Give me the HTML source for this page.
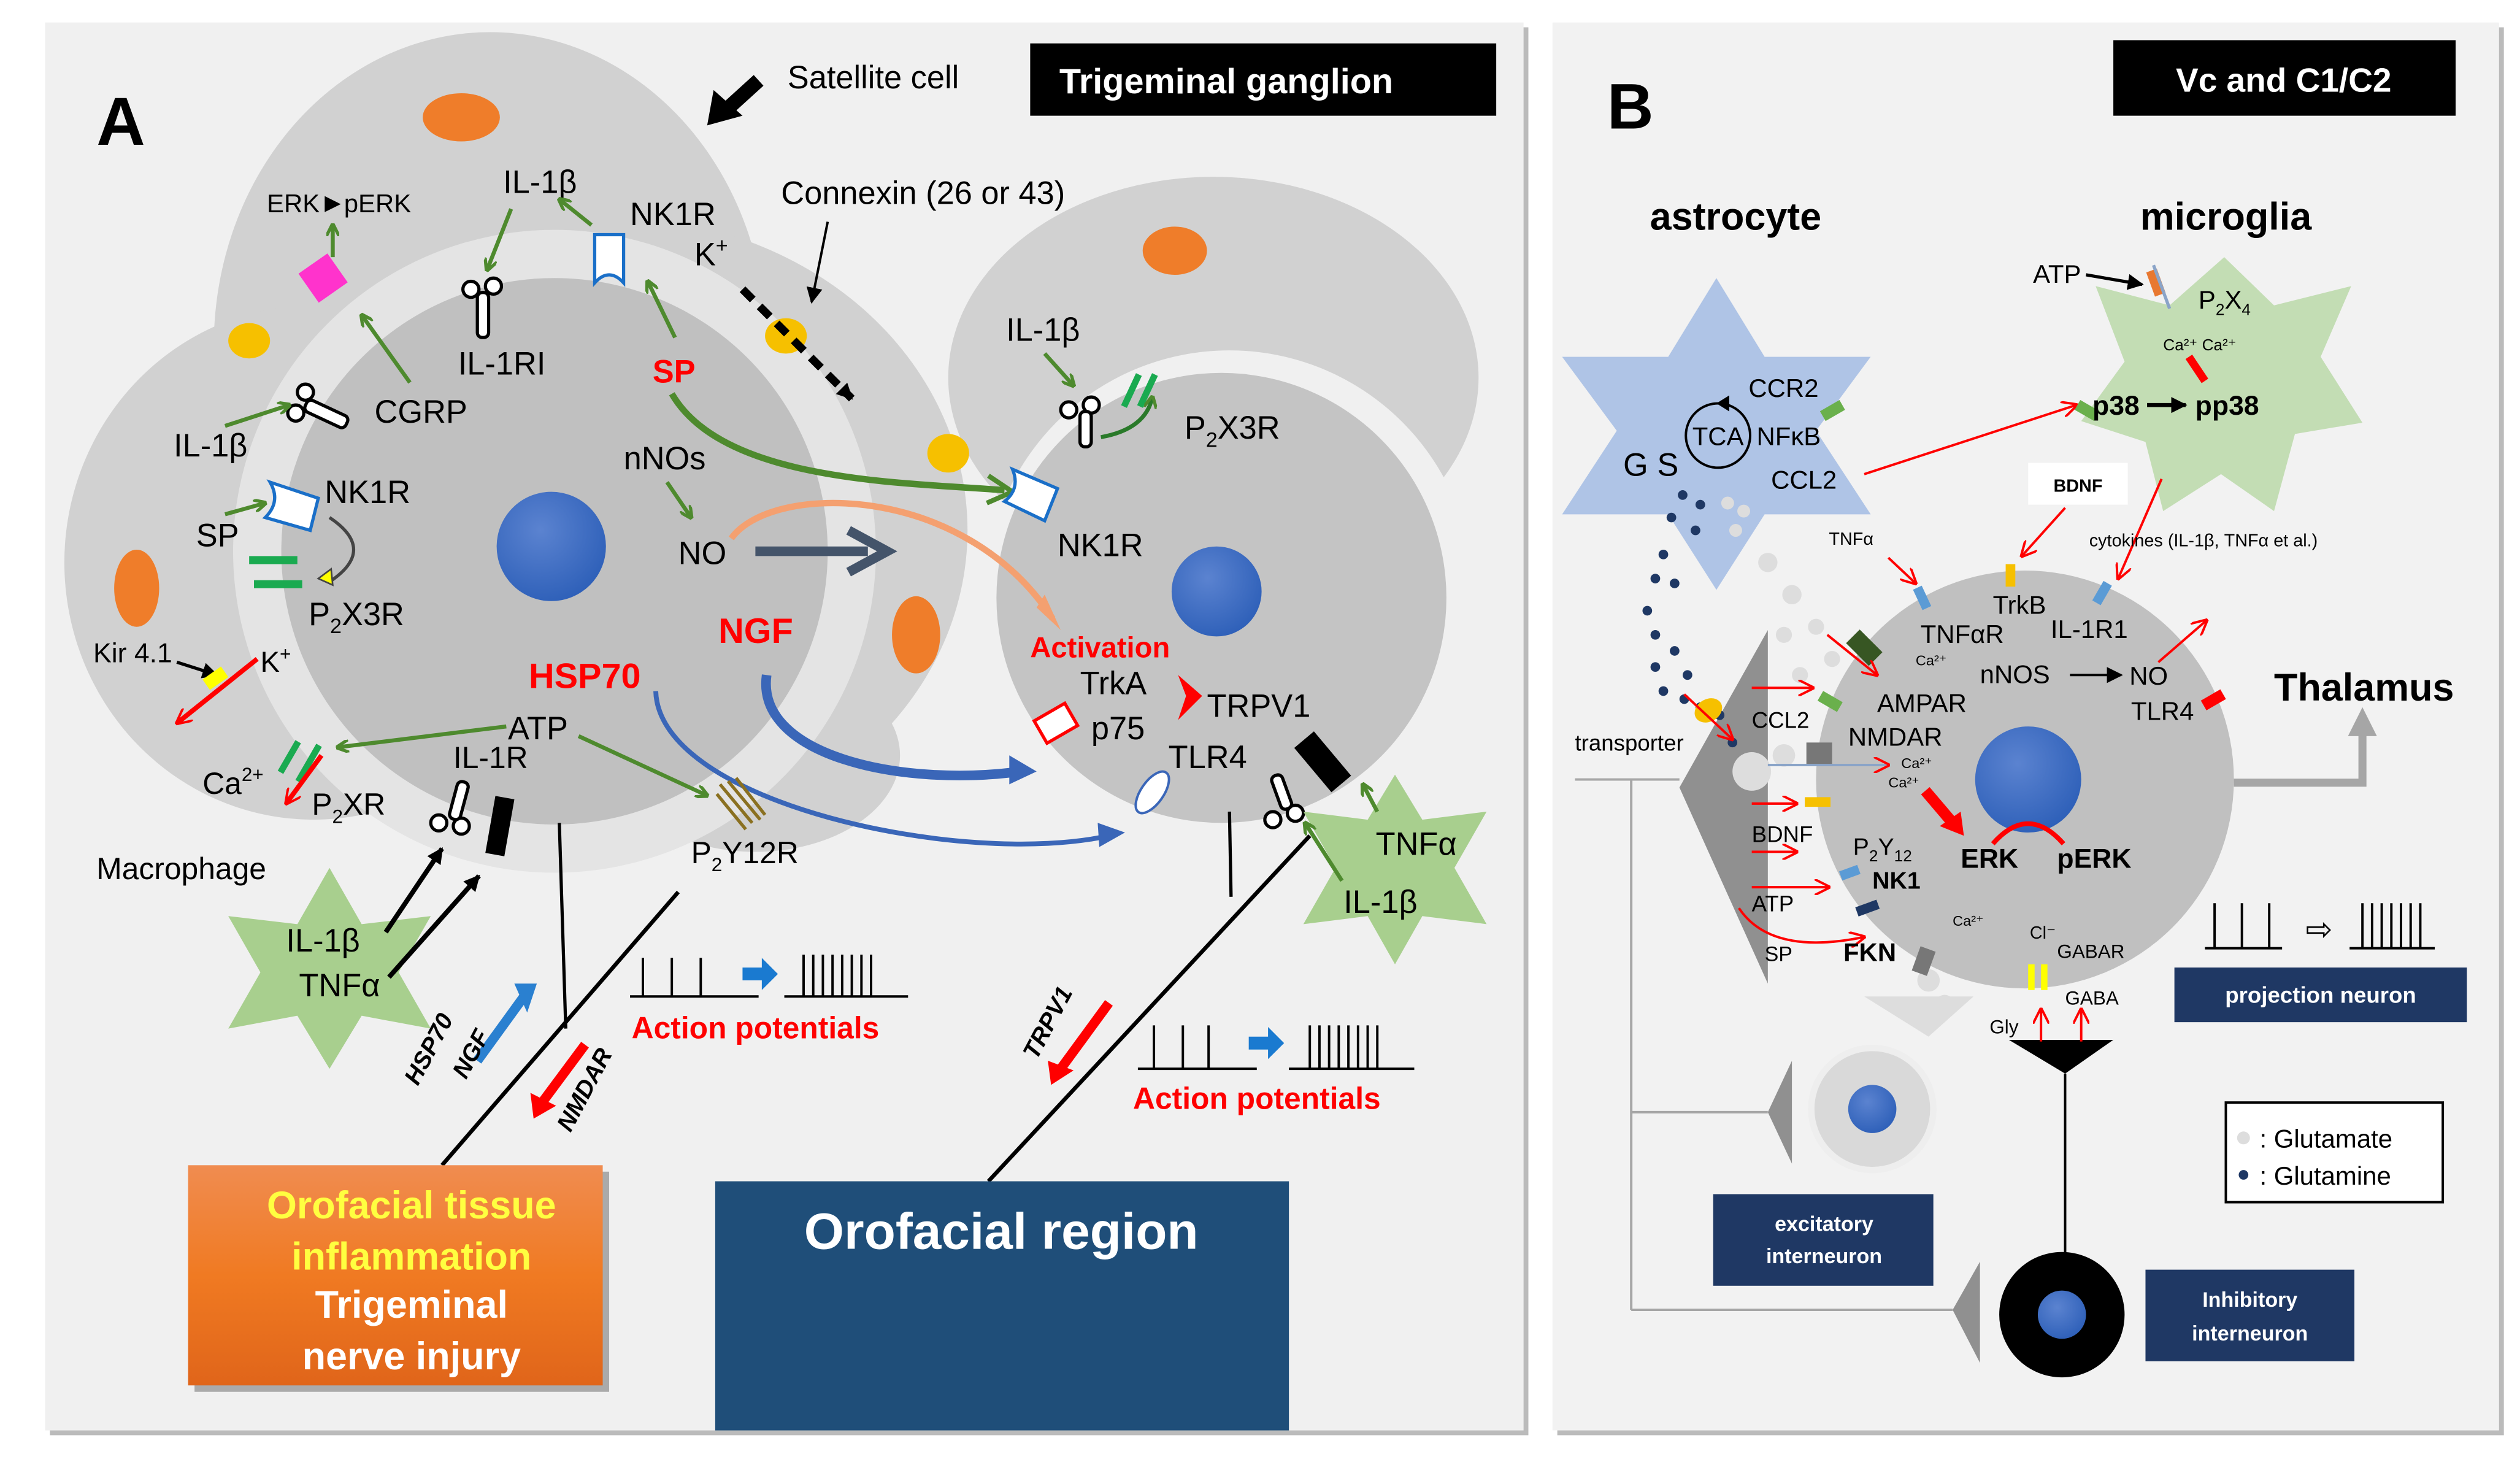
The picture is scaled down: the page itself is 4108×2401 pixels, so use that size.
<!DOCTYPE html>
<html><head><meta charset="utf-8"><style>
html,body{margin:0;padding:0;background:#fff;}
svg{display:block;}
text{font-family:"Liberation Sans",sans-serif;}
</style></head><body>
<svg width="4108" height="2401" viewBox="0 0 1568 916.5" xmlns="http://www.w3.org/2000/svg">
<defs>
<marker id="ag" markerWidth="8" markerHeight="8" refX="7" refY="4" orient="auto" markerUnits="userSpaceOnUse"><path d="M0,0 L8,4 L0,8" fill="none" stroke="#4e8a2e" stroke-width="2"/></marker>
<marker id="ar" markerWidth="10" markerHeight="10" refX="9" refY="5" orient="auto" markerUnits="userSpaceOnUse"><path d="M0,0 L10,5 L0,10" fill="none" stroke="#f00" stroke-width="1.5"/></marker>
<marker id="ak" markerWidth="10" markerHeight="10" refX="9" refY="5" orient="auto" markerUnits="userSpaceOnUse"><path d="M0,0 L10,5 L0,10 z" fill="#000"/></marker>
<linearGradient id="og" x1="0" y1="0" x2="0" y2="1"><stop offset="0" stop-color="#f08c50"/><stop offset="0.5" stop-color="#f07a22"/><stop offset="1" stop-color="#e0651a"/></linearGradient>
<radialGradient id="nb" cx="0.4" cy="0.35" r="0.7"><stop offset="0" stop-color="#5b83d0"/><stop offset="1" stop-color="#2d5fb8"/></radialGradient>
</defs>
<rect width="1568" height="916.5" fill="#fff"/>
<rect x="31" y="17" width="920" height="876" fill="#bbb"/>
<rect x="28" y="14" width="920" height="876" fill="#f0f0f0"/>
<rect x="969" y="17" width="589" height="876" fill="#bbb"/>
<rect x="966" y="14" width="589" height="876" fill="#f2f2f2"/>

<ellipse cx="305" cy="215" rx="172" ry="195" fill="#d1d1d1"/>
<ellipse cx="380" cy="330" rx="222" ry="195" fill="#d1d1d1"/>
<ellipse cx="195" cy="350" rx="155" ry="160" fill="#d1d1d1"/>
<ellipse cx="470" cy="470" rx="90" ry="60" fill="#d1d1d1"/>
<circle cx="345" cy="343" r="200" fill="#e4e4e4"/>
<circle cx="345" cy="343" r="170" fill="#c0c0c0"/>
<ellipse cx="755" cy="235" rx="165" ry="125" fill="#d1d1d1"/>
<circle cx="765" cy="370" r="152" fill="#f0f0f0"/>
<circle cx="760" cy="372" r="140" fill="#c4c4c4"/>
<circle cx="343" cy="340" r="34" fill="url(#nb)"/>
<circle cx="757" cy="368" r="28" fill="url(#nb)"/>
<ellipse cx="287" cy="73" rx="24" ry="15" fill="#ef7d2a"/>
<ellipse cx="85" cy="366" rx="14" ry="24" fill="#ef7d2a"/>
<ellipse cx="570" cy="395" rx="15" ry="24" fill="#ef7d2a"/>
<ellipse cx="731" cy="156" rx="20" ry="15" fill="#ef7d2a"/>
<ellipse cx="155" cy="212" rx="13" ry="11" fill="#f6c000"/>
<ellipse cx="489" cy="209" rx="13" ry="11" fill="#f6c000"/>
<ellipse cx="590" cy="282" rx="13" ry="12" fill="#f6c000"/>

<rect x="641" y="27" width="290" height="45" fill="#000"/>
<text x="763" y="58" font-size="22" font-weight="bold" fill="#fff" text-anchor="middle">Trigeminal ganglion</text>
<text x="60" y="90" font-size="42" font-weight="bold">A</text>
<text x="490" y="55" font-size="20">Satellite cell</text>
<path d="M472,50 L450,70" stroke="#000" stroke-width="9"/><path d="M440,78 L444,56 L462,72z" fill="#000"/>
<text x="486" y="127" font-size="20">Connexin (26   or 43)</text>
<line x1="515" y1="138" x2="505" y2="188" stroke="#000" stroke-width="1.5" marker-end="url(#ak)"/>
<text x="432" y="165" font-size="20">K<tspan font-size="13" dy="-8">+</tspan></text>
<line x1="462" y1="180" x2="530" y2="248" stroke="#000" stroke-width="5" stroke-dasharray="9,6" marker-end="url(#ak)"/>

<text x="166" y="132" font-size="16">ERK</text><path d="M202,122 L212,127 L202,132z" fill="#000"/><text x="214" y="132" font-size="16">pERK</text>
<rect x="190" y="162" width="22" height="22" fill="#ff33cc" transform="rotate(-35 201 173)"/>
<line x1="207" y1="160" x2="207" y2="140" stroke="#4e8a2e" stroke-width="2.5" marker-end="url(#ag)"/>
<line x1="255" y1="238" x2="225" y2="196" stroke="#4e8a2e" stroke-width="2.5" marker-end="url(#ag)"/>
<text x="313" y="120" font-size="20">IL-1β</text>
<line x1="318" y1="130" x2="303" y2="168" stroke="#4e8a2e" stroke-width="2.5" marker-end="url(#ag)"/>
<line x1="368" y1="140" x2="348" y2="124" stroke="#4e8a2e" stroke-width="2.5" marker-end="url(#ag)"/>
<g stroke="#000" stroke-width="2" fill="#fff"><circle cx="293" cy="180" r="5"/><circle cx="307" cy="178" r="5"/><rect x="297" y="182" width="7" height="28" rx="3"/></g>
<text x="285" y="233" font-size="20">IL-1RI</text>
<text x="392" y="140" font-size="20">NK1R</text>
<path d="M370,146 h18 v30 q-9,-10 -18,0z" fill="#fff" stroke="#1a6fc8" stroke-width="2"/>
<text x="406" y="238" font-size="20" fill="#f00" font-weight="bold">SP</text>
<line x1="420" y1="210" x2="403" y2="175" stroke="#4e8a2e" stroke-width="2.5" marker-end="url(#ag)"/>
<text x="233" y="263" font-size="20">CGRP</text>
<g stroke="#000" stroke-width="2" fill="#fff"><circle cx="190" cy="244" r="5"/><circle cx="184" cy="257" r="5"/><rect x="192" y="248" width="28" height="8" rx="3" transform="rotate(25 192 248)"/></g>
<text x="108" y="284" font-size="20">IL-1β</text>
<line x1="140" y1="265" x2="180" y2="252" stroke="#4e8a2e" stroke-width="2.5" marker-end="url(#ag)"/>
<text x="202" y="313" font-size="20">NK1R</text>
<path d="M168,300 l30,10 l-5,20 l-28,-8 q10,-10 3,-22z" fill="#fff" stroke="#1a6fc8" stroke-width="2"/>
<text x="122" y="340" font-size="20">SP</text>
<line x1="140" y1="320" x2="165" y2="313" stroke="#4e8a2e" stroke-width="2.5" marker-end="url(#ag)"/>
<path d="M205,322 q30,20 0,40" fill="none" stroke="#444" stroke-width="2"/><path d="M198,360 l8,-6 l1,10z" fill="#ff0" stroke="#444"/>
<rect x="155" y="346" width="30" height="5" fill="#1aaa50"/><rect x="158" y="361" width="30" height="5" fill="#1aaa50"/>
<text x="192" y="389" font-size="20">P<tspan font-size="13" dy="5">2</tspan><tspan dy="-5">X3R</tspan></text>
<text x="388" y="292" font-size="20">nNOs</text>
<line x1="415" y1="300" x2="430" y2="322" stroke="#4e8a2e" stroke-width="2.5" marker-end="url(#ag)"/>
<text x="422" y="351" font-size="20">NO</text>
<path d="M470,343 H540" stroke="#44546a" stroke-width="6"/><path d="M528,330 L552,343 L528,356" fill="none" stroke="#44546a" stroke-width="6"/>
<path d="M455,335 C480,300 600,300 655,385" fill="none" stroke="#f4a070" stroke-width="4"/>
<path d="M645,378 L660,392 L650,370z" fill="#f4a070"/>
<path d="M418,245 C450,300 560,300 625,305" fill="none" stroke="#4e8a2e" stroke-width="4"/>
<path d="M615,296 L630,306 L614,313" fill="none" stroke="#4e8a2e" stroke-width="3"/>
<text x="641" y="409" font-size="18" font-weight="bold" fill="#f00">Activation</text>
<text x="447" y="400" font-size="22" font-weight="bold" fill="#f00">NGF</text>
<text x="329" y="428" font-size="22" font-weight="bold" fill="#f00">HSP70</text>
<path d="M477,420 C470,470 560,490 635,480" fill="none" stroke="#3a66b8" stroke-width="6"/><path d="M628,470 L645,480 L628,488z" fill="#3a66b8"/>
<path d="M408,430 C410,500 600,540 690,520" fill="none" stroke="#3a66b8" stroke-width="3"/><path d="M683,512 L700,518 L684,527z" fill="#3a66b8"/>
<text x="58" y="412" font-size="17">Kir 4.1</text>
<line x1="110" y1="412" x2="135" y2="420" stroke="#000" stroke-width="2" marker-end="url(#ak)"/>
<text x="162" y="418" font-size="18">K<tspan font-size="12" dy="-7">+</tspan></text>
<line x1="160" y1="410" x2="110" y2="450" stroke="#f00" stroke-width="3" marker-end="url(#ar)"/>
<rect x="127" y="418" width="14" height="8" fill="#ff0" transform="rotate(-35 134 422)"/>
<text x="316" y="460" font-size="20">ATP</text>
<line x1="315" y1="452" x2="210" y2="465" stroke="#4e8a2e" stroke-width="2.5" marker-end="url(#ag)"/>
<line x1="360" y1="458" x2="440" y2="495" stroke="#4e8a2e" stroke-width="2.5" marker-end="url(#ag)"/>
<rect x="178" y="460" width="4" height="22" fill="#1aaa50" transform="rotate(30 180 471)"/>
<rect x="190" y="462" width="4" height="26" fill="#1aaa50" transform="rotate(30 192 475)"/>
<line x1="200" y1="470" x2="178" y2="500" stroke="#f00" stroke-width="3" marker-end="url(#ar)"/>
<text x="126" y="494" font-size="19">Ca<tspan font-size="12" dy="-8">2+</tspan></text>
<text x="194" y="507" font-size="19">P<tspan font-size="12" dy="5">2</tspan><tspan dy="-5">XR</tspan></text>
<text x="282" y="478" font-size="19">IL-1R</text>
<g stroke="#000" stroke-width="2" fill="#fff"><circle cx="273" cy="512" r="5"/><circle cx="287" cy="514" r="5"/><rect x="282" y="486" width="7" height="24" rx="3" transform="rotate(15 285 498)"/></g>
<rect x="305" y="496" width="12" height="36" fill="#000" transform="rotate(10 311 514)"/>
<g stroke="#8a7020" stroke-width="2"><line x1="448" y1="488" x2="468" y2="512"/><line x1="453" y1="486" x2="473" y2="510"/><line x1="458" y1="484" x2="476" y2="507"/><line x1="446" y1="494" x2="464" y2="516"/></g>
<text x="430" y="537" font-size="19">P<tspan font-size="12" dy="5">2</tspan><tspan dy="-5">Y12R</tspan></text>
<text x="626" y="212" font-size="20">IL-1β</text>
<line x1="650" y1="220" x2="668" y2="240" stroke="#4e8a2e" stroke-width="2.5" marker-end="url(#ag)"/>
<g stroke="#000" stroke-width="2" fill="#fff"><circle cx="665" cy="255" r="5"/><circle cx="679" cy="252" r="5"/><rect x="672" y="256" width="7" height="22" rx="3"/></g>
<rect x="702" y="232" width="4" height="22" fill="#1aaa50" transform="rotate(25 704 243)"/><rect x="712" y="232" width="4" height="22" fill="#1aaa50" transform="rotate(25 714 243)"/>
<path d="M685,272 q28,-5 32,-25" fill="none" stroke="#2a7a2a" stroke-width="2.5" marker-end="url(#ag)"/>
<text x="737" y="273" font-size="20">P<tspan font-size="13" dy="5">2</tspan><tspan dy="-5">X3R</tspan></text>
<path d="M630,292 l28,12 l-8,20 l-25,-12 q10,-8 5,-20z" fill="#fff" stroke="#1a6fc8" stroke-width="2"/>
<text x="658" y="346" font-size="20">NK1R</text>
<text x="672" y="432" font-size="20">TrkA</text>
<text x="679" y="460" font-size="20">p75</text>
<rect x="646" y="442" width="22" height="16" fill="#fff" stroke="#f00" stroke-width="2" transform="rotate(-30 657 450)"/>
<path d="M733,420 L748,433 L733,448 L738,433z" fill="#f00"/>
<text x="751" y="446" font-size="20">TRPV1</text>
<text x="727" y="478" font-size="20">TLR4</text>
<ellipse cx="717" cy="493" rx="7" ry="15" fill="#fff" stroke="#3a66b8" stroke-width="1.5" transform="rotate(35 717 493)"/>
<g stroke="#000" stroke-width="2" fill="#fff"><circle cx="792" cy="510" r="5"/><circle cx="806" cy="506" r="5"/><rect x="794" y="482" width="7" height="22" rx="3" transform="rotate(-20 797 493)"/></g>
<rect x="815" y="456" width="16" height="36" fill="#000" transform="rotate(-40 823 474)"/>
<path d="M205,540 L225,575 L268,570 L248,605 L268,640 L225,632 L205,665 L185,632 L142,640 L162,605 L142,570 L185,575z" fill="#a8cf8e"/>
<text x="178" y="592" font-size="20">IL-1β</text>
<text x="186" y="620" font-size="20">TNFα</text>
<text x="60" y="547" font-size="19">Macrophage</text>
<line x1="240" y1="580" x2="275" y2="528" stroke="#000" stroke-width="3" marker-end="url(#ak)"/>
<line x1="242" y1="608" x2="298" y2="545" stroke="#000" stroke-width="3" marker-end="url(#ak)"/>
<path d="M868,482 L885,510 L925,505 L905,540 L925,575 L885,570 L868,600 L851,570 L811,575 L831,540 L811,505 L851,510z" fill="#a8cf8e"/>
<text x="856" y="532" font-size="20">TNFα</text>
<text x="836" y="568" font-size="20">IL-1β</text>
<line x1="857" y1="505" x2="848" y2="488" stroke="#4e8a2e" stroke-width="2.5" marker-end="url(#ag)"/>
<line x1="835" y1="548" x2="812" y2="512" stroke="#4e8a2e" stroke-width="2.5" marker-end="url(#ag)"/>
<line x1="348" y1="512" x2="352" y2="640" stroke="#000" stroke-width="2"/>
<line x1="422" y1="555" x2="275" y2="725" stroke="#000" stroke-width="2.5"/>
<line x1="765" y1="505" x2="766" y2="558" stroke="#000" stroke-width="2"/>
<line x1="815" y1="520" x2="615" y2="735" stroke="#000" stroke-width="2.5"/>
<path d="M297,660 L326,620" stroke="#2a80d0" stroke-width="6"/><path d="M320,612 L334,612 L328,630z" fill="#2a80d0"/>
<path d="M364,650 L338,685" stroke="#f00" stroke-width="6"/><path d="M330,680 L332,696 L346,688z" fill="#f00"/>
<text transform="translate(260,676) rotate(-62)" font-size="15" font-weight="bold" font-style="italic">HSP70</text>
<text transform="translate(290,672) rotate(-62)" font-size="15" font-weight="bold" font-style="italic">NGF</text>
<text transform="translate(355,705) rotate(-62)" font-size="15" font-weight="bold" font-style="italic">NMDAR</text>
<path d="M690,624 L660,665" stroke="#f00" stroke-width="6"/><path d="M652,660 L654,675 L668,666z" fill="#f00"/>
<text transform="translate(645,660) rotate(-62)" font-size="15" font-weight="bold" font-style="italic">TRPV1</text>
<g stroke="#000" stroke-width="1.5" fill="none">
<path d="M392,620 H472 M400,620 V596 M418,620 V596 M436,620 V596"/>
<path d="M488,620 H565 M500,620V594 M506,620V594 M512,620V594 M518,620V594 M524,620V594 M530,620V594 M536,620V594 M542,620V594"/>
<path d="M708,665 H782 M718,665V638 M736,665V638 M752,665V638"/>
<path d="M802,665 H880 M815,665V638 M821,665V638 M827,665V638 M833,665V638 M839,665V638 M845,665V638 M851,665V638 M857,665V638"/>
</g>
<path d="M462,602 h12 v-6 l10,10 l-10,10 v-6 h-12z" fill="#1a7ad0"/>
<path d="M777,645 h12 v-6 l10,10 l-10,10 v-6 h-12z" fill="#1a7ad0"/>
<text x="393" y="646" font-size="19" font-weight="bold" fill="#f00">Action potentials</text>
<text x="705" y="690" font-size="19" font-weight="bold" fill="#f00">Action potentials</text>
<rect x="121" y="729" width="258" height="137" fill="#aaa"/>
<rect x="117" y="725" width="258" height="137" fill="url(#og)"/>
<g font-size="24" font-weight="bold" text-anchor="middle"><text x="256" y="758" fill="#ffff40">Orofacial tissue</text><text x="256" y="790" fill="#ffff40">inflammation</text><text x="256" y="820" fill="#fff">Trigeminal</text><text x="256" y="852" fill="#fff">nerve injury</text></g>
<rect x="445" y="735" width="357" height="155" fill="#1f4e79"/>
<text x="623" y="777" font-size="32" font-weight="bold" fill="#fff" text-anchor="middle">Orofacial region</text>

<rect x="1315" y="25" width="213" height="47" fill="#000"/>
<text x="1421" y="57" font-size="21" font-weight="bold" fill="#fff" text-anchor="middle">Vc and C1/C2</text>
<text x="1000" y="80" font-size="40" font-weight="bold">B</text>
<text x="1080" y="143" font-size="24" font-weight="bold" text-anchor="middle">astrocyte</text>
<text x="1385" y="143" font-size="24" font-weight="bold" text-anchor="middle">microglia</text>
<path d="M1068,173 L1098,222 L1164,222 L1130,268 L1164,320 L1098,320 L1068,367 L1038,320 L972,320 L1006,268 L972,222 L1038,222z" fill="#afc4e6"/>
<path d="M1384,160 L1415,190 L1463,178 L1444,222 L1470,263 L1428,270 L1415,318 L1382,295 L1346,318 L1335,275 L1295,262 L1322,225 L1304,178 L1350,190z" fill="#c3ddb4"/>
<path d="M1100,392 L1045,490 L1100,612z" fill="#909090"/>
<circle cx="1260" cy="485" r="130" fill="#c0c0c0"/>
<circle cx="1262" cy="485" r="33" fill="url(#nb)"/>
<path d="M1240,525 q22,-25 44,0" fill="none" stroke="#f00" stroke-width="3"/>
<g fill="#1f3864"><circle cx="1047" cy="308" r="3"/><circle cx="1058" cy="314" r="3"/><circle cx="1040" cy="322" r="3"/><circle cx="1055" cy="330" r="3"/><circle cx="1035" cy="345" r="3"/><circle cx="1030" cy="360" r="3"/><circle cx="1042" cy="363" r="3"/><circle cx="1025" cy="380" r="3"/><circle cx="1030" cy="395" r="3"/><circle cx="1042" cy="405" r="3"/><circle cx="1050" cy="420" r="3"/><circle cx="1035" cy="430" r="3"/><circle cx="1048" cy="435" r="3"/><circle cx="1058" cy="440" r="3"/><circle cx="1070" cy="445" r="3"/><circle cx="1078" cy="462" r="3"/><circle cx="1030" cy="415" r="3"/></g>
<g fill="#ddd"><circle cx="1075" cy="313" r="4"/><circle cx="1085" cy="318" r="4"/><circle cx="1080" cy="330" r="4"/><circle cx="1100" cy="350" r="6"/><circle cx="1115" cy="370" r="6"/><circle cx="1130" cy="390" r="5"/><circle cx="1110" cy="395" r="5"/><circle cx="1140" cy="410" r="5"/><circle cx="1120" cy="420" r="5"/><circle cx="1090" cy="480" r="12"/><circle cx="1110" cy="470" r="7"/><circle cx="1200" cy="610" r="7"/><circle cx="1210" cy="625" r="6"/></g>
<ellipse cx="1063" cy="442" rx="9" ry="7" fill="#f6c000" transform="rotate(-30 1063 442)"/>
<line x1="1048" y1="432" x2="1078" y2="460" stroke="#f00" stroke-width="1.5" marker-end="url(#ar)"/>
<text x="1088" y="247" font-size="16">CCR2</text>
<text x="1093" y="277" font-size="16">NFκB</text>
<text x="1102" y="304" font-size="16">CCL2</text>
<circle cx="1069" cy="271" r="20" fill="none" stroke="#000" stroke-width="1.5"/>
<text x="1069" y="277" font-size="16" text-anchor="middle">TCA</text>
<path d="M1068,251 l8,-5 v10z" fill="#000"/>
<text x="1010" y="296" font-size="20">G S</text>
<rect x="1133" y="252" width="14" height="7" fill="#6ab04c" transform="rotate(-30 1140 255)"/>
<line x1="1160" y1="295" x2="1292" y2="252" stroke="#f00" stroke-width="1.5" marker-end="url(#ar)"/>
<rect x="1292" y="252" width="14" height="7" fill="#6ab04c" transform="rotate(30 1299 255)"/>
<text x="1265" y="176" font-size="16">ATP</text>
<line x1="1298" y1="171" x2="1333" y2="177" stroke="#000" stroke-width="2" marker-end="url(#ak)"/>
<rect x="1338" y="168" width="7" height="16" fill="#e87830" transform="rotate(-20 1341 176)"/>
<line x1="1340" y1="165" x2="1350" y2="192" stroke="#8aa4c8" stroke-width="2"/>
<text x="1368" y="192" font-size="16">P<tspan font-size="10" dy="4">2</tspan><tspan dy="-4">X</tspan><tspan font-size="10" dy="4">4</tspan></text>
<text x="1346" y="218" font-size="10">Ca²⁺  Ca²⁺</text>
<path d="M1362,222 l10,15" stroke="#f00" stroke-width="5"/>
<text x="1302" y="258" font-size="17" font-weight="bold">p38</text>
<line x1="1336" y1="252" x2="1360" y2="252" stroke="#000" stroke-width="2.5" marker-end="url(#ak)"/>
<text x="1366" y="258" font-size="17" font-weight="bold">pp38</text>
<rect x="1262" y="288" width="62" height="26" fill="#fff"/>
<text x="1293" y="306" font-size="11" font-weight="bold" text-anchor="middle">BDNF</text>
<line x1="1285" y1="316" x2="1258" y2="346" stroke="#f00" stroke-width="1.5" marker-end="url(#ar)"/>
<line x1="1345" y1="298" x2="1318" y2="360" stroke="#f00" stroke-width="1.5" marker-end="url(#ar)"/>
<text x="1300" y="340" font-size="11">cytokines (IL-1β, TNFα et al.)</text>
<text x="1138" y="339" font-size="11">TNFα</text>
<line x1="1175" y1="347" x2="1192" y2="363" stroke="#f00" stroke-width="1.5" marker-end="url(#ar)"/>
<rect x="1193" y="365" width="6" height="14" fill="#5b9bd5" transform="rotate(-25 1196 372)"/>
<rect x="1248" y="351" width="6" height="14" fill="#f6c000"/>
<rect x="1305" y="362" width="6" height="14" fill="#5b9bd5" transform="rotate(30 1308 369)"/>
<text x="1240" y="382" font-size="16">TrkB</text>
<text x="1195" y="400" font-size="16">TNFαR</text>
<text x="1276" y="397" font-size="16">IL-1R1</text>
<text x="1192" y="414" font-size="9">Ca²⁺</text>
<text x="1232" y="425" font-size="16">nNOS</text>
<line x1="1288" y1="420" x2="1320" y2="420" stroke="#000" stroke-width="1.5" marker-end="url(#ak)"/>
<text x="1325" y="426" font-size="16">NO</text>
<line x1="1343" y1="412" x2="1373" y2="386" stroke="#f00" stroke-width="1.5" marker-end="url(#ar)"/>
<text x="1326" y="448" font-size="16">TLR4</text>
<rect x="1370" y="432" width="14" height="7" fill="#f00" transform="rotate(-30 1377 435)"/>
<rect x="1150" y="397" width="20" height="12" fill="#375623" transform="rotate(45 1160 403)"/>
<line x1="1137" y1="395" x2="1168" y2="420" stroke="#f00" stroke-width="1.5" marker-end="url(#ar)"/>
<text x="1168" y="443" font-size="16">AMPAR</text>
<text x="1150" y="464" font-size="16">NMDAR</text>
<rect x="1132" y="433" width="14" height="7" fill="#6ab04c" transform="rotate(30 1139 436)"/>
<line x1="1090" y1="428" x2="1128" y2="428" stroke="#f00" stroke-width="1.5" marker-end="url(#ar)"/>
<text x="1090" y="453" font-size="14">CCL2</text>
<rect x="1124" y="462" width="16" height="14" fill="#777"/>
<line x1="1100" y1="476" x2="1175" y2="476" stroke="#8aa4c8" stroke-width="1.5" marker-end="url(#ar)"/>
<text x="1183" y="478" font-size="9">Ca²⁺</text><text x="1175" y="490" font-size="9">Ca²⁺</text>
<path d="M1198,492 L1215,512" stroke="#f00" stroke-width="7"/><path d="M1207,514 L1222,520 L1220,505z" fill="#f00"/>
<text x="1220" y="540" font-size="17" font-weight="bold">ERK</text>
<text x="1280" y="540" font-size="17" font-weight="bold">pERK</text>
<line x1="1090" y1="500" x2="1118" y2="500" stroke="#f00" stroke-width="1.5" marker-end="url(#ar)"/>
<rect x="1123" y="496" width="16" height="6" fill="#f6c000"/>
<text x="1090" y="524" font-size="14">BDNF</text>
<line x1="1090" y1="530" x2="1118" y2="530" stroke="#f00" stroke-width="1.5" marker-end="url(#ar)"/>
<text x="1153" y="532" font-size="15">P<tspan font-size="10" dy="4">2</tspan><tspan dy="-4">Y</tspan><tspan font-size="10" dy="4">12</tspan></text>
<text x="1165" y="553" font-size="15" font-weight="bold">NK1</text>
<rect x="1145" y="540" width="12" height="6" fill="#5b9bd5" transform="rotate(-20 1151 543)"/>
<line x1="1090" y1="552" x2="1138" y2="552" stroke="#f00" stroke-width="1.5" marker-end="url(#ar)"/>
<text x="1090" y="567" font-size="14">ATP</text>
<rect x="1155" y="562" width="14" height="6" fill="#1f3864" transform="rotate(-20 1162 565)"/>
<path d="M1082,565 q20,30 78,18" fill="none" stroke="#f00" stroke-width="1.5" marker-end="url(#ar)"/>
<text x="1098" y="598" font-size="13">SP</text>
<text x="1147" y="598" font-size="16" font-weight="bold">FKN</text>
<rect x="1192" y="590" width="10" height="16" fill="#777" transform="rotate(20 1197 598)"/>
<text x="1215" y="576" font-size="9">Ca²⁺</text>
<text x="1263" y="584" font-size="11">Cl⁻</text>
<text x="1280" y="596" font-size="12">GABAR</text>
<rect x="1262" y="600" width="4" height="16" fill="#ff0"/><rect x="1270" y="600" width="4" height="16" fill="#ff0"/>
<text x="1285" y="625" font-size="12">GABA</text>
<text x="1238" y="643" font-size="12">Gly</text>
<path d="M1250,647 L1315,647 L1285,668z" fill="#000"/>
<line x1="1285" y1="668" x2="1285" y2="780" stroke="#000" stroke-width="1.5"/>
<path d="M1270,648 l0,-20" stroke="#f00" stroke-width="1.5" marker-end="url(#ar)"/>
<path d="M1295,648 l0,-20" stroke="#f00" stroke-width="1.5" marker-end="url(#ar)"/>
<path d="M1160,620 L1228,620 L1200,645z" fill="#ddd"/>
<text x="1415" y="436" font-size="24" font-weight="bold">Thalamus</text>
<path d="M1390,487 H1470 V455" fill="none" stroke="#a6a6a6" stroke-width="5"/><path d="M1461,458 L1470,440 L1479,458z" fill="#a6a6a6"/>
<g stroke="#000" stroke-width="1.5" fill="none"><path d="M1372,590 H1420 M1378,590V562 M1395,590V562 M1412,590V562"/><path d="M1462,590 H1515 M1470,590V562 M1476,590V562 M1482,590V562 M1488,590V562 M1494,590V562 M1500,590V562 M1506,590V562"/></g>
<text x="1443" y="585" font-size="20" text-anchor="middle">⇨</text>
<rect x="1353" y="602" width="182" height="34" fill="#1f3864"/>
<text x="1444" y="624" font-size="14" font-weight="bold" fill="#fff" text-anchor="middle">projection neuron</text>
<text x="980" y="467" font-size="14">transporter</text>
<line x1="980" y1="485" x2="1045" y2="485" stroke="#a6a6a6" stroke-width="1.5"/>
<line x1="1015" y1="485" x2="1015" y2="815" stroke="#a6a6a6" stroke-width="1.5"/>
<line x1="1015" y1="692" x2="1100" y2="692" stroke="#a6a6a6" stroke-width="1.5"/>
<line x1="1015" y1="815" x2="1215" y2="815" stroke="#a6a6a6" stroke-width="1.5"/>
<path d="M1115,660 L1100,692 L1115,724z" fill="#909090"/>
<path d="M1232,785 L1215,815 L1232,848z" fill="#909090"/>
<circle cx="1165" cy="690" r="38" fill="#d9d9d9" stroke="#eee" stroke-width="4"/>
<circle cx="1165" cy="690" r="15" fill="url(#nb)"/>
<circle cx="1283" cy="818" r="39" fill="#000"/>
<circle cx="1283" cy="818" r="15" fill="url(#nb)"/>
<rect x="1066" y="743" width="137" height="57" fill="#1f3864"/>
<text x="1135" y="766" font-size="13" font-weight="bold" fill="#fff" text-anchor="middle">excitatory</text>
<text x="1135" y="786" font-size="13" font-weight="bold" fill="#fff" text-anchor="middle">interneuron</text>
<rect x="1335" y="790" width="130" height="57" fill="#1f3864"/>
<text x="1400" y="813" font-size="13" font-weight="bold" fill="#fff" text-anchor="middle">Inhibitory</text>
<text x="1400" y="834" font-size="13" font-weight="bold" fill="#fff" text-anchor="middle">interneuron</text>
<rect x="1385" y="686" width="135" height="62" fill="#fff" stroke="#000" stroke-width="1.5"/>
<circle cx="1396" cy="708" r="4" fill="#ddd"/><circle cx="1396" cy="731" r="3" fill="#1f3864"/>
<text x="1406" y="714" font-size="16">: Glutamate</text>
<text x="1406" y="737" font-size="16">: Glutamine</text>
</svg>
</body></html>
